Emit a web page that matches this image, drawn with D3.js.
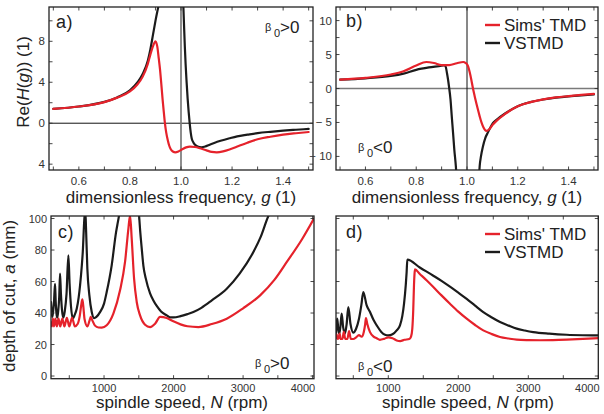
<!DOCTYPE html>
<html>
<head>
<meta charset="utf-8">
<script src="https://cdn.jsdelivr.net/npm/d3@7"></script>
<style>
  body { margin: 0; background: #fff; }
  svg { display: block; font-family: "Liberation Sans", Arial, sans-serif; }
</style>
</head>
<body>
<svg width="604" height="414"></svg>
<script>
// ---- data ----
// panel a : beta0 > 0, Re(H(g)) vs g
const aSims = [[0.5,1.4],[0.6,1.63],[0.7,2.06],[0.75,2.5],[0.8,3.1],[0.83,3.8],[0.85,4.55],[0.87,5.8],[0.88,6.7],[0.89,7.5],[0.9,8.0],[0.907,7.5],[0.913,6.3],[0.918,5.2],[0.923,3.8],[0.928,2.3],[0.933,1.0],[0.937,0],[0.942,-0.9],[0.948,-1.64],[0.954,-2.2],[0.96,-2.55],[0.968,-2.76],[0.978,-2.84],[0.99,-2.76],[1.005,-2.55],[1.02,-2.36],[1.035,-2.28],[1.055,-2.32],[1.075,-2.45],[1.1,-2.65],[1.12,-2.8],[1.14,-2.84],[1.165,-2.75],[1.19,-2.57],[1.218,-2.3],[1.26,-1.9],[1.3,-1.57],[1.35,-1.32],[1.4,-1.12],[1.45,-0.98],[1.5,-0.86]];
const aVstmdLow = [[0.5,1.4],[0.6,1.63],[0.7,2.08],[0.75,2.52],[0.8,3.2],[0.83,4.0],[0.85,4.8],[0.87,6.1],[0.88,7.2],[0.89,8.6],[0.9,10.0],[0.913,11.6]];
const aVstmdHigh = [[1.009,11.6],[1.012,9.5],[1.015,7.5],[1.018,5.8],[1.022,4.0],[1.026,2.4],[1.03,1.1],[1.034,0],[1.038,-0.9],[1.042,-1.5],[1.048,-1.85],[1.055,-2.1],[1.065,-2.27],[1.08,-2.35],[1.095,-2.28],[1.11,-2.12],[1.13,-1.93],[1.155,-1.72],[1.19,-1.47],[1.22,-1.28],[1.26,-1.12],[1.3,-0.97],[1.35,-0.84],[1.4,-0.73],[1.45,-0.64],[1.5,-0.56]];

// panel b : beta0 < 0
const bSims = [[0.5,1.32],[0.6,1.57],[0.7,2.06],[0.75,2.55],[0.8,3.4],[0.84,3.9],[0.87,3.75],[0.9,3.45],[0.93,3.45],[0.96,3.72],[0.985,3.9],[0.995,3.75],[1.004,3.3],[1.01,2.5],[1.017,1.3],[1.023,0.1],[1.03,-1.1],[1.037,-2.2],[1.043,-3.1],[1.05,-4.1],[1.057,-5.0],[1.065,-5.75],[1.076,-6.25],[1.088,-6.0],[1.1,-5.4],[1.115,-4.8],[1.15,-3.75],[1.2,-2.6],[1.25,-2.0],[1.3,-1.6],[1.35,-1.32],[1.4,-1.13],[1.45,-0.95],[1.5,-0.8]];
const bVstmdLow = [[0.5,1.3],[0.6,1.5],[0.7,1.85],[0.75,2.2],[0.8,2.75],[0.85,3.1],[0.9,3.35],[0.912,3.43],[0.917,3.1],[0.921,2.3],[0.925,1.4],[0.929,0.3],[0.935,-1.6],[0.94,-4.1],[0.945,-6.5],[0.95,-9],[0.956,-11.4],[0.958,-12.5]];
const bVstmdHigh = [[1.048,-12.5],[1.05,-11.4],[1.055,-10],[1.063,-8.5],[1.072,-7.3],[1.082,-6.5],[1.092,-5.75],[1.102,-5.1],[1.115,-4.65],[1.15,-3.68],[1.2,-2.6],[1.25,-2.0],[1.3,-1.62],[1.35,-1.35],[1.4,-1.15],[1.45,-1.0],[1.5,-0.88]];

// panel c : stability lobes, beta0 > 0
const cSims = [[237,34],[250,31.5],[265,36.5],[280,31.5],[300,36.5],[320,31.5],[345,36.5],[370,31.5],[400,36.5],[430,31.5],[465,37],[500,31.5],[540,37],[580,31.5],[620,33],[650,38],[675,46],[688,48.7],[700,45],[720,36],[760,31.5],[790,35],[809,37.5],[830,35.5],[870,32],[920,30.8],[967,30.7],[1038,32.2],[1134,39.6],[1230,54.4],[1302,72.4],[1350,93.5],[1374,102],[1398,87.2],[1432,61.8],[1470,47],[1518,38.5],[1590,32.6],[1662,31.1],[1734,33.2],[1806,37.5],[1902,36.8],[1997,34.7],[2100,32.8],[2200,31.6],[2357,31.1],[2550,33],[2765,36.4],[3000,43],[3245,51.2],[3450,61],[3629,72.4],[3850,87],[4020,100]];
const cVstmd = [[237,47],[245,41],[255,37.5],[265,40],[280,47],[295,58.6],[305,47],[315,40],[328,37],[340,41],[355,50],[367,65],[380,52],[395,42],[415,37],[435,41],[460,52],[487,76.6],[505,58],[525,44],[550,36.5],[575,38.5],[607,42.7],[635,50],[655,57.6],[680,70],[694,78.7],[717,99.9],[727,104],[732,104],[741,93.5],[760,68.1],[789,51.2],[823,40.6],[856,36.8],[890,37.5],[942,40.6],[1000,46],[1038,53.3],[1110,70.3],[1173,91.4],[1200,98],[1216,102],[1230,106],[1490,106],[1504,101.6],[1520,92],[1540,82],[1566,70],[1600,62],[1662,52.5],[1710,48],[1758,44.5],[1820,41],[1902,38.5],[1950,37.2],[2000,37.2],[2100,38],[2200,39.3],[2285,40.6],[2400,43.3],[2550,48],[2765,55.4],[2950,65],[3148,78.7],[3250,88],[3364,101.6],[3390,104]];

// panel d : stability lobes, beta0 < 0
const dSims = [[253,24],[262,26.5],[275,23.5],[290,24],[305,27],[320,23.5],[345,23.5],[365,28],[385,23.5],[415,23.5],[440,28.5],[465,23.5],[500,23.5],[540,24.5],[580,26],[620,25],[650,28],[670,33],[681,36.8],[700,33],[739,27.9],[790,25],[834,24],[880,23],[940,23.6],[1000,24.6],[1060,24],[1120,22.6],[1170,22.2],[1230,23],[1300,23.5],[1325,25],[1343,30],[1357,42.7],[1367,57.6],[1375,65],[1381,67.7],[1450,64.8],[1550,60.6],[1643,56.5],[1760,51.2],[1881,45.9],[2000,40.9],[2120,36.4],[2240,32.4],[2357,29],[2480,26.6],[2596,24.8],[2720,23.8],[2834,23.1],[3000,22.8],[3167,22.7],[3350,22.8],[3548,23.1],[3780,23.6],[4000,24.1]];
const dVstmd = [[253,27],[262,33],[271,36.4],[285,30],[300,26.9],[315,31],[334,39.6],[355,31],[381,26.9],[405,33],[429,43.8],[460,33],[500,27.5],[540,30],[580,36],[615,45],[643,53.3],[690,45],[739,40.6],[790,35.5],[834,32.2],[900,28],[953,26.2],[1000,25.8],[1060,26.5],[1120,29],[1167,32.2],[1200,38],[1225,46],[1250,58],[1262,66],[1272,73.9],[1450,68.9],[1643,63.7],[1760,60.4],[1881,56.7],[2000,52.9],[2120,49.0],[2240,44.7],[2357,40.6],[2480,37.2],[2596,34.3],[2720,32],[2834,30.1],[2950,28.9],[3071,27.9],[3300,26.9],[3548,26.2],[3780,25.9],[4000,25.8]];

// ticks
const gTicks = d3.range(5, 16).map(d => d / 10);
const gLabels = [0.6, 0.8, 1.0, 1.2, 1.4];
const aYTicks = d3.range(-4, 11, 2);
const aYLabels = [[-4, "4"], [0, "0"], [4, "4"], [8, "8"]];
const bYTicks = d3.range(-10, 10.1, 2.5);
const bYLabels = [[-10, "\u2212 10"], [-5, "\u2212 5"], [0, "0"], [5, "5"], [10, "10"]];
const nTicks = d3.range(500, 4001, 500);
const nLabels = [1000, 2000, 3000, 4000];
const depthTicks = d3.range(0, 101, 20);

const legendNames = ["Sims' TMD", "VSTMD"];
const RED = "#e5222b", BLACK = "#1b1b1b";

const svg = d3.select("svg");

function panel(id, box, xDom, yDom) {
  const x = d3.scaleLinear().domain(xDom).range([box.l, box.r]);
  const y = d3.scaleLinear().domain(yDom).range([box.b, box.t]);
  const g = svg.append("g").attr("id", id);
  g.append("clipPath").attr("id", "clip-" + id)
    .append("rect")
    .attr("x", box.l).attr("y", box.t)
    .attr("width", box.r - box.l).attr("height", box.b - box.t);
  return {x, y, g, box, id};
}

function frameAndTicks(p, xt, yt) {
  const {x, y, g, box} = p;
  const tl = 3.5;
  const tk = g.append("g").attr("stroke", "#333").attr("stroke-width", 0.9);
  xt.forEach(v => {
    tk.append("line").attr("x1", x(v)).attr("x2", x(v)).attr("y1", box.b).attr("y2", box.b - tl);
    tk.append("line").attr("x1", x(v)).attr("x2", x(v)).attr("y1", box.t).attr("y2", box.t + tl);
  });
  yt.forEach(v => {
    tk.append("line").attr("y1", y(v)).attr("y2", y(v)).attr("x1", box.l).attr("x2", box.l + tl);
    tk.append("line").attr("y1", y(v)).attr("y2", y(v)).attr("x1", box.r).attr("x2", box.r - tl);
  });
  g.append("rect")
    .attr("x", box.l).attr("y", box.t)
    .attr("width", box.r - box.l).attr("height", box.b - box.t)
    .attr("fill", "none").attr("stroke", "#222").attr("stroke-width", 1.3);
}

function xLabels(p, vals, fmt, base, size) {
  p.g.append("g").selectAll("text").data(vals).join("text")
    .attr("x", d => Math.min(p.x(d), p.box.r - 11))
    .attr("y", base)
    .attr("text-anchor", "middle")
    .attr("font-size", size).attr("fill", "#333")
    .text(fmt);
}

function yLabels(p, pairs, size) {
  p.g.append("g").selectAll("text").data(pairs).join("text")
    .attr("x", p.box.l - 4)
    .attr("y", d => p.y(d[0]) + 4)
    .attr("text-anchor", "end")
    .attr("font-size", size).attr("fill", "#333")
    .text(d => d[1]);
}

function curve(p, pts, color) {
  const line = d3.line()
    .x(d => p.x(d[0])).y(d => p.y(d[1]))
    .curve(d3.curveMonotoneX);
  p.g.append("path")
    .attr("clip-path", "url(#clip-" + p.id + ")")
    .attr("d", line(pts))
    .attr("fill", "none")
    .attr("stroke", color).attr("stroke-width", 2.2)
    .attr("stroke-linejoin", "round").attr("stroke-linecap", "round");
}

function refLines(p, hStyle, vStyle) {
  p.g.append("line")
    .attr("x1", p.box.l).attr("x2", p.box.r)
    .attr("y1", p.y(0)).attr("y2", p.y(0))
    .attr("stroke", hStyle[0]).attr("stroke-width", hStyle[1]);
  p.g.append("line")
    .attr("x1", p.x(1)).attr("x2", p.x(1))
    .attr("y1", p.box.t).attr("y2", p.box.b)
    .attr("stroke", vStyle[0]).attr("stroke-width", vStyle[1]);
}

function tag(p, txt, xx, yy) {
  p.g.append("text").attr("x", xx).attr("y", yy)
    .attr("font-size", 18).attr("fill", "#222")
    .attr("letter-spacing", 0.5)
    .text(txt);
}

function beta(p, xx, yy, sign) {
  const t = p.g.append("g").attr("fill", "#222");
  t.append("text").attr("x", xx).attr("y", yy - 2).attr("font-size", 11).text("\u03b2");
  t.append("text").attr("x", xx + 9).attr("y", yy + 4).attr("font-size", 11).text("0");
  t.append("text").attr("x", xx + 15).attr("y", yy).attr("font-size", 17).text(sign + "0");
}

function legend(p, xx, yy) {
  const lg = p.g.append("g");
  [RED, BLACK].forEach((c, i) => {
    lg.append("line")
      .attr("x1", xx).attr("x2", xx + 15)
      .attr("y1", yy + i * 18).attr("y2", yy + i * 18)
      .attr("stroke", c).attr("stroke-width", 2.4);
    lg.append("text")
      .attr("x", xx + 19).attr("y", yy + i * 18 + 6)
      .attr("font-size", 17).attr("fill", "#222")
      .text(legendNames[i]);
  });
}

function title(parts, xx, yy, rotate) {
  const t = svg.append("text")
    .attr("font-size", 17).attr("fill", "#222")
    .attr("text-anchor", "middle");
  if (rotate) t.attr("transform", "translate(" + xx + "," + yy + ") rotate(-90)");
  else t.attr("x", xx).attr("y", yy);
  parts.forEach(pt => {
    t.append("tspan").attr("font-style", pt[1] ? "italic" : null).text(pt[0]);
  });
}

// ---- panel a ----
const pa = panel("a", {l: 49, r: 313, t: 7, b: 170}, [0.483, 1.517], [-4.57, 11.35]);
refLines(pa, ["#111", 1], ["#7a7a7a", 1.7]);
curve(pa, aVstmdLow, BLACK);
curve(pa, aVstmdHigh, BLACK);
curve(pa, aSims, RED);
frameAndTicks(pa, gTicks, aYTicks);
xLabels(pa, gLabels, d => d.toFixed(1), 185, 11.5);
yLabels(pa, aYLabels, 11.5);
tag(pa, "a)", 56, 28);
beta(pa, 265, 33, ">");

// ---- panel b ----
const pb = panel("b", {l: 336, r: 598, t: 7, b: 170}, [0.484, 1.516], [-12, 12]);
refLines(pb, ["#7a7a7a", 1.7], ["#111", 1]);
curve(pb, bVstmdLow, BLACK);
curve(pb, bVstmdHigh, BLACK);
curve(pb, bSims, RED);
frameAndTicks(pb, gTicks, bYTicks);
xLabels(pb, gLabels, d => d.toFixed(1), 185, 11.5);
yLabels(pb, bYLabels, 11.5);
tag(pb, "b)", 346, 27);
beta(pb, 358, 153, "<");
legend(pb, 485, 25);

// ---- panel c ----
const pc = panel("c", {l: 51, r: 314, t: 216, b: 378.7}, [237, 4020], [-1.7, 101.6]);
curve(pc, cVstmd, BLACK);
curve(pc, cSims, RED);
frameAndTicks(pc, nTicks, depthTicks);
xLabels(pc, nLabels, d => d, 392, 11);
yLabels(pc, depthTicks.map(d => [d, d]), 11);
tag(pc, "c)", 58, 238);
beta(pc, 255, 369, ">");

// ---- panel d ----
const pd = panel("d", {l: 336, r: 598.3, t: 216, b: 378.7}, [253, 4000], [-1.7, 101.6]);
curve(pd, dVstmd, BLACK);
curve(pd, dSims, RED);
frameAndTicks(pd, nTicks, depthTicks);
xLabels(pd, nLabels, d => d, 392, 11);
tag(pd, "d)", 346, 238);
beta(pd, 358, 372, "<");
legend(pd, 485, 234);

// ---- axis titles ----
title([["Re("], ["H", 1], ["("], ["g", 1], [")) (1)"]], 29, 82, true);
title([["depth of cut, "], ["a", 1], [" (mm)"]], 15, 296, true);
title([["dimensionless frequency, "], ["g", 1], [" (1)"]], 181, 203);
title([["dimensionless frequency, "], ["g", 1], [" (1)"]], 467, 203);
title([["spindle speed, "], ["N", 1], [" (rpm)"]], 182, 408);
title([["spindle speed, "], ["N", 1], [" (rpm)"]], 468, 408);
</script>
</body>
</html>
